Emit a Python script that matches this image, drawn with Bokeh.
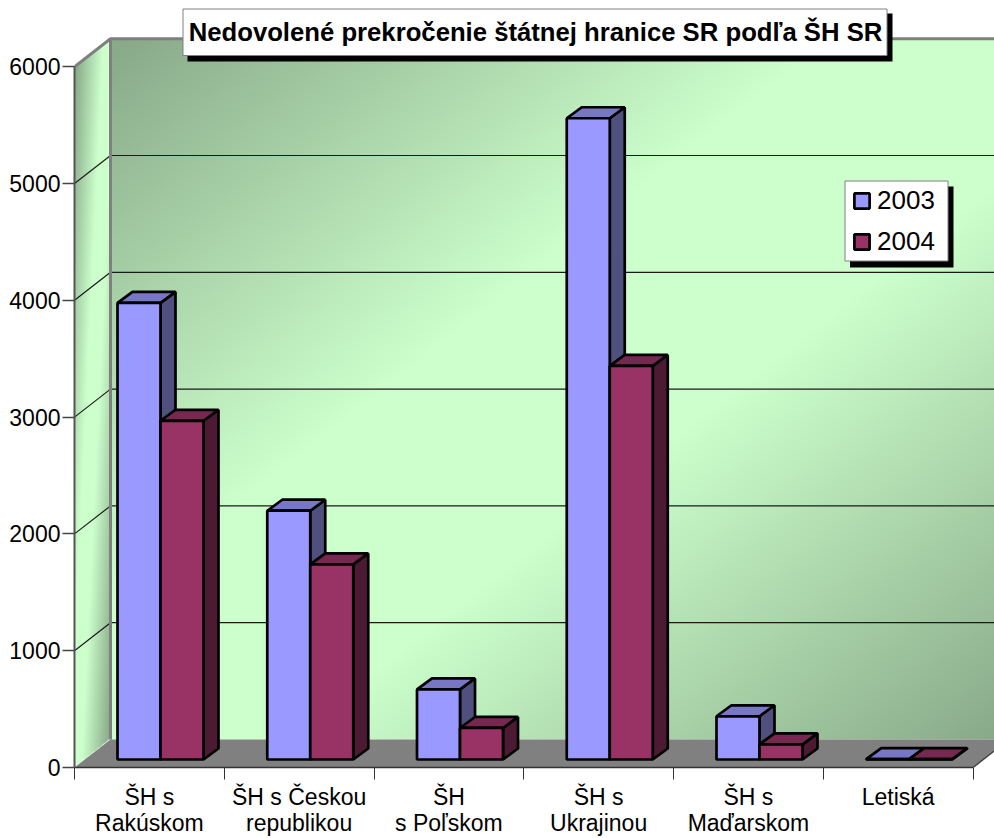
import numpy as np
from bokeh.plotting import figure
from bokeh.models import Range1d, FixedTicker, Legend, LegendItem
from bokeh.core.properties import value
from bokeh.embed import file_html
from bokeh.resources import INLINE

TITLE = "Nedovolené prekročenie štátnej hranice SR podľa ŠH SR"
categories = ["ŠH s\nRakúskom", "ŠH s Českou\nrepublikou", "ŠH\ns Poľskom",
              "ŠH s\nUkrajinou", "ŠH s\nMaďarskom", "Letiská"]
series_names = ["2003", "2004"]
values_2003 = [3910, 2130, 600, 5490, 370, 3]
values_2004 = [2900, 1670, 270, 3370, 130, 3]
y_ticks = [0, 1000, 2000, 3000, 4000, 5000, 6000]

FRONT = ["#9999ff", "#993366"]
TOP = ["#7777c4", "#762850"]
SIDE = ["#50507f", "#4d1a33"]
WIDTH, HEIGHT = 994, 838
PX_X = 149.75          # pixels per category
PX_Y = 0.1168          # pixels per unit
LEFT, BASE = 74, 767   # frame origin in figure pixels
DX, DY = 36 / PX_X, 28 / PX_Y          # depth of the walls
BDX, BDY = 15 / PX_X, 11 / PX_Y        # depth of a bar
BAR_X0, BAR_W, BAR_Y0 = 43 / PX_X, 43 / PX_X, 8 / PX_Y


def fx(px):   # figure px -> data
    return (px - LEFT) / PX_X


def fy(py):
    return (BASE - py) / PX_Y


p = figure(width=WIDTH, height=HEIGHT, output_backend="svg", toolbar_location=None,
           x_range=Range1d(0, (WIDTH - LEFT) / PX_X), y_range=Range1d(0, BASE / PX_Y),
           min_border_left=LEFT, min_border_right=0, min_border_top=0,
           min_border_bottom=HEIGHT - BASE, outline_line_color=None,
           background_fill_color="white")
p.xgrid.visible = False
p.ygrid.visible = False

FONT = "Liberation Sans"
ax = p.yaxis[0]
ax.ticker = FixedTicker(ticks=y_ticks)
ax.bounds = (0, 6000)
ax.major_tick_out, ax.major_tick_in = 12, 0
ax.minor_tick_out, ax.minor_tick_in = 0, 0
ax.major_label_standoff = 2
ax.major_label_text_font = FONT
ax.major_label_text_font_size = "23px"
ax.major_label_text_color = "black"
ax.axis_line_color = "#555555"
ax.axis_line_width = 2
ax.major_tick_line_color = "#444444"
ax.major_tick_line_width = 1.5

ax = p.xaxis[0]
centers = [i + 0.5 for i in range(len(categories))]
ax.ticker = FixedTicker(ticks=centers, minor_ticks=list(range(len(categories) + 1)))
ax.major_label_overrides = dict(zip(centers, categories))
ax.bounds = (0, len(categories))
ax.major_tick_out, ax.major_tick_in = 0, 0
ax.minor_tick_out, ax.minor_tick_in = 12, 0
ax.major_label_standoff = 4
ax.major_label_text_font = FONT
ax.major_label_text_font_size = "23px"
ax.major_label_text_line_height = 1.0
ax.major_label_text_color = "black"
ax.axis_line_color = "#333333"
ax.axis_line_width = 1.5
ax.minor_tick_line_color = "#333333"
ax.minor_tick_line_width = 1


def shade(u, v):
    t = (u + v) / 2
    dark = np.array([0x88, 0xa8, 0x88], float)
    light = np.array([0xcc, 0xff, 0xcc], float)
    m = np.where(t < 0.40, 1 - t / 0.40, np.where(t > 0.60, (t - 0.60) / 0.40, 0.0))
    return light[None, None, :] * (1 - m[..., None]) + dark[None, None, :] * m[..., None]


def to_rgba(rgb, mask=None):
    h, w = rgb.shape[:2]
    out = np.zeros((h, w), dtype=np.uint32)
    view = out.view(np.uint8).reshape((h, w, 4))
    view[..., :3] = rgb.astype(np.uint8)
    view[..., 3] = 255 if mask is None else (mask * 255).astype(np.uint8)
    return out


# back wall
n = len(categories)
w_px, h_px = int(n * PX_X), int(6000 * PX_Y)
u, v = np.meshgrid(np.linspace(0, 1, w_px), np.linspace(1, 0, h_px))
p.image_rgba(image=[to_rgba(shade(u, v))], x=DX, y=DY, dw=n, dh=6000)

# side wall (parallelogram)
w_px, h_px = 36, int((6000 + DY) * PX_Y)
xs_g = np.linspace(0, DX, w_px)
ys_g = np.linspace(0, 6000 + DY, h_px)
X, Y = np.meshgrid(xs_g, ys_g)
low = X / DX * DY
mask = (Y >= low) & (Y <= low + 6000)
u = X / DX
v = 1 - (Y - low) / 6000
p.image_rgba(image=[to_rgba(shade(u, np.clip(v, 0, 1)), mask)], x=0, y=0, dw=DX, dh=6000 + DY)

# floor
p.patch([0, n, n + DX, DX], [0, 0, DY, DY], fill_color="#808080", line_color=None)
p.line([n, n + DX], [0, DY], line_color="#444444", line_width=1.5)

# grid on the walls
ticks_in = [t for t in y_ticks if 0 < t < 6000]
p.segment(x0=[DX] * len(ticks_in), y0=[t + DY for t in ticks_in],
          x1=[n + DX] * len(ticks_in), y1=[t + DY for t in ticks_in],
          line_color="#1a1a1a", line_width=1.2)
p.segment(x0=[0] * len(ticks_in), y0=ticks_in, x1=[DX] * len(ticks_in),
          y1=[t + DY for t in ticks_in], line_color="#1a1a1a", line_width=1.2)
# wall outline
p.line([0, DX, n + DX], [6000, 6000 + DY, 6000 + DY], line_color="#808080", line_width=3)
p.line([DX, DX], [DY, 6000 + DY], line_color="#808080", line_width=3)

# bars
front_renderers = []
for s, vals in enumerate([values_2003, values_2004]):
    left = [i + BAR_X0 + s * BAR_W for i in range(n)]
    right = [l + BAR_W for l in left]
    tops = [BAR_Y0 + val for val in vals]
    side_x = [[r, r + BDX, r + BDX, r] for r in right]
    side_y = [[BAR_Y0, BAR_Y0 + BDY, t + BDY, t] for t in tops]
    p.patches(side_x, side_y, fill_color=SIDE[s], line_color="black", line_width=2.7)
    top_x = [[l, l + BDX, r + BDX, r] for l, r in zip(left, right)]
    top_y = [[t, t + BDY, t + BDY, t] for t in tops]
    p.patches(top_x, top_y, fill_color=TOP[s], line_color="black", line_width=2.7)
    q = p.quad(left=left, right=right, bottom=[BAR_Y0] * n, top=tops,
               fill_color=FRONT[s], line_color="black", line_width=2.7)
    front_renderers.append(q)


def box(x0, x1, y0, y1, fill, line=None):
    p.quad(left=[fx(x0)], right=[fx(x1)], top=[fy(y0)], bottom=[fy(y1)],
           fill_color=fill, line_color=line, line_width=1)


# title box
box(187, 892, 13, 61, "black")
box(182.5, 886.5, 8.5, 55, "white", "#808080")
p.text(x=[fx(535)], y=[fy(31)], text=[TITLE], text_font=value(FONT), text_font_style="bold",
       text_font_size="25.7px", text_align="center", text_baseline="middle", text_color="black")

# legend
box(849.5, 953, 186, 267, "black")
box(844.5, 947.5, 180.5, 260.5, "white", "#808080")
legend = Legend(items=[LegendItem(label=series_names[i], renderers=[front_renderers[i]]) for i in range(2)],
                location=(778, 510), orientation="vertical", margin=0, padding=0,
                glyph_width=19, glyph_height=19, label_standoff=6, spacing=10, label_height=27,
                label_text_font=FONT, label_text_font_size="26px", label_text_color="black",
                border_line_color=None, background_fill_alpha=0)
p.add_layout(legend)

open("out.html", "w").write(file_html(p, INLINE))
